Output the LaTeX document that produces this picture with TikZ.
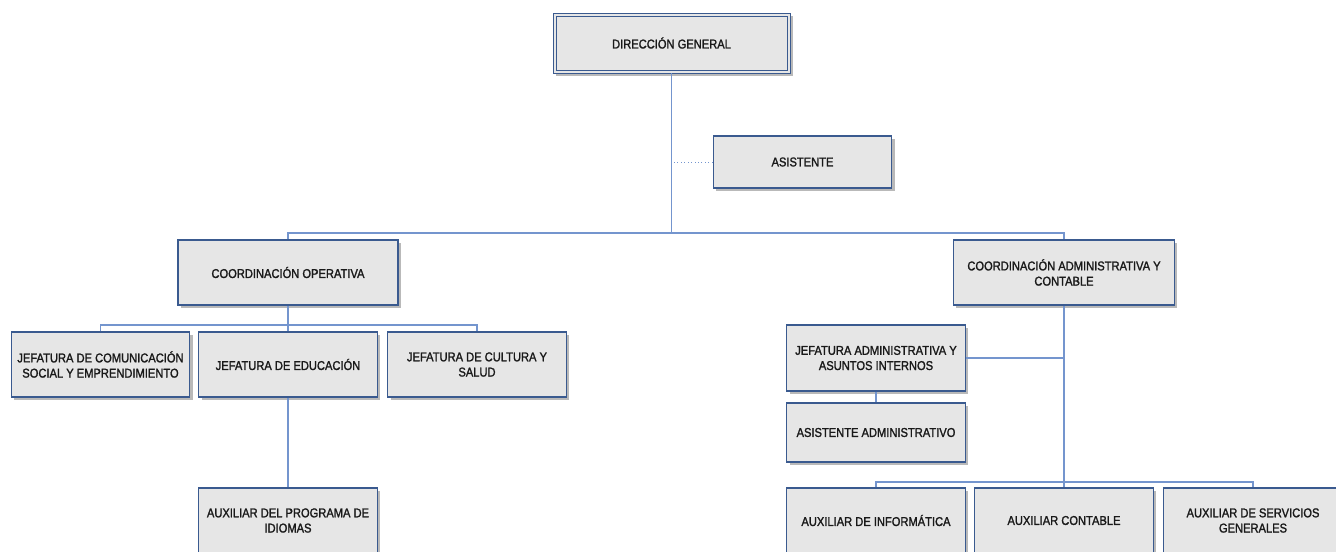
\documentclass[tikz,border=0pt]{standalone}
\usepackage{fontspec}
\setmainfont{Liberation Sans}[FakeStretch=0.88]
\newfontfamily\cajafuente{Liberation Sans}[FakeStretch=0.87, FakeBold=1.5]
\usetikzlibrary{positioning,shadows}

\definecolor{cajaborde}{HTML}{3A5A8F}
\definecolor{cajafondo}{HTML}{E6E6E6}
\definecolor{azullinea}{HTML}{7495CE}

\tikzset{
    caja/.style={draw=cajaborde, line width=0.8pt, fill=cajafondo, align=center,
        minimum width=134pt, minimum height=48.75pt, inner sep=2pt,
        font=\cajafuente\fontsize{9.6}{11.4}\selectfont, text=black!90,
        drop shadow={shadow xshift=2.2pt, shadow yshift=-2.2pt, opacity=0.55}},
    enlace/.style={draw=azullinea, line width=0.9pt},
}

\begin{document}
\begin{tikzpicture}[x=0.75pt, y=-0.75pt]
            \useasboundingbox (0,0) rectangle (1336,552);
            \node[caja, line width=0.6pt, minimum width=177.75pt, minimum height=45pt] (dg) at (671.5,43) {DIRECCIÓN GENERAL};
            \draw[cajaborde, line width=0.6pt] ([xshift=2.6pt,yshift=-2.6pt]dg.north west) rectangle ([xshift=-2.6pt,yshift=2.6pt]dg.south east);
            \node[caja, minimum height=39pt] (asis) at (802.5,162) {ASISTENTE};
            \node[caja, minimum width=165pt] (cop) at (288,272.5) {COORDINACIÓN OPERATIVA};
            \node[caja, minimum width=165.75pt] (cad) at (1064,272.5) {COORDINACIÓN ADMINISTRATIVA Y\\CONTABLE};
            \node[caja] (jcom) at (100.5,364.5) {JEFATURA DE COMUNICACIÓN\\SOCIAL Y EMPRENDIMIENTO};
            \node[caja] (jedu) at (288,364.5) {JEFATURA DE EDUCACIÓN};
            \node[caja] (jcul) at (477,364.5) {JEFATURA DE CULTURA Y\\SALUD};
            \node[caja] (aidi) at (288,520.5) {AUXILIAR DEL PROGRAMA DE\\IDIOMAS};
            \node[caja, minimum height=49.5pt] (jadm) at (876,358) {JEFATURA ADMINISTRATIVA Y\\ASUNTOS INTERNOS};
            \node[caja, minimum height=44.25pt] (asad) at (876,432.5) {ASISTENTE ADMINISTRATIVO};
            \foreach \n/\x/\t in {ainf/876/AUXILIAR DE INFORMÁTICA,
                                  acon/1064/AUXILIAR CONTABLE,
                                  aser/1253/AUXILIAR DE SERVICIOS\\GENERALES}{%
                    \node[caja] (\n) at (\x,520.5) {\t};
                }
            \coordinate (b1) at (671.5,233);
            \coordinate (b2) at (288,325);
            \coordinate (b3) at (1064,482);
            \draw[enlace] (dg.south) -- (b1);
            \draw[enlace] (cop.north) |- (b1) -| (cad.north);
            \draw[enlace, line width=0.6pt, dotted] (asis.west) -- (asis.west -| dg.south);
            \draw[enlace] (cop.south) -- (jedu.north);
            \draw[enlace] (jcom.north) |- (b2) -| (jcul.north);
            \draw[enlace] (jedu.south) -- (aidi.north);
            \draw[enlace] (cad.south) -- (acon.north);
            \draw[enlace] (jadm.east) -- (jadm.east -| cad.south);
            \draw[enlace] (jadm.south) -- (asad.north);
            \draw[enlace] (ainf.north) |- (b3) -| (aser.north);
        \end{tikzpicture}
\end{document}
